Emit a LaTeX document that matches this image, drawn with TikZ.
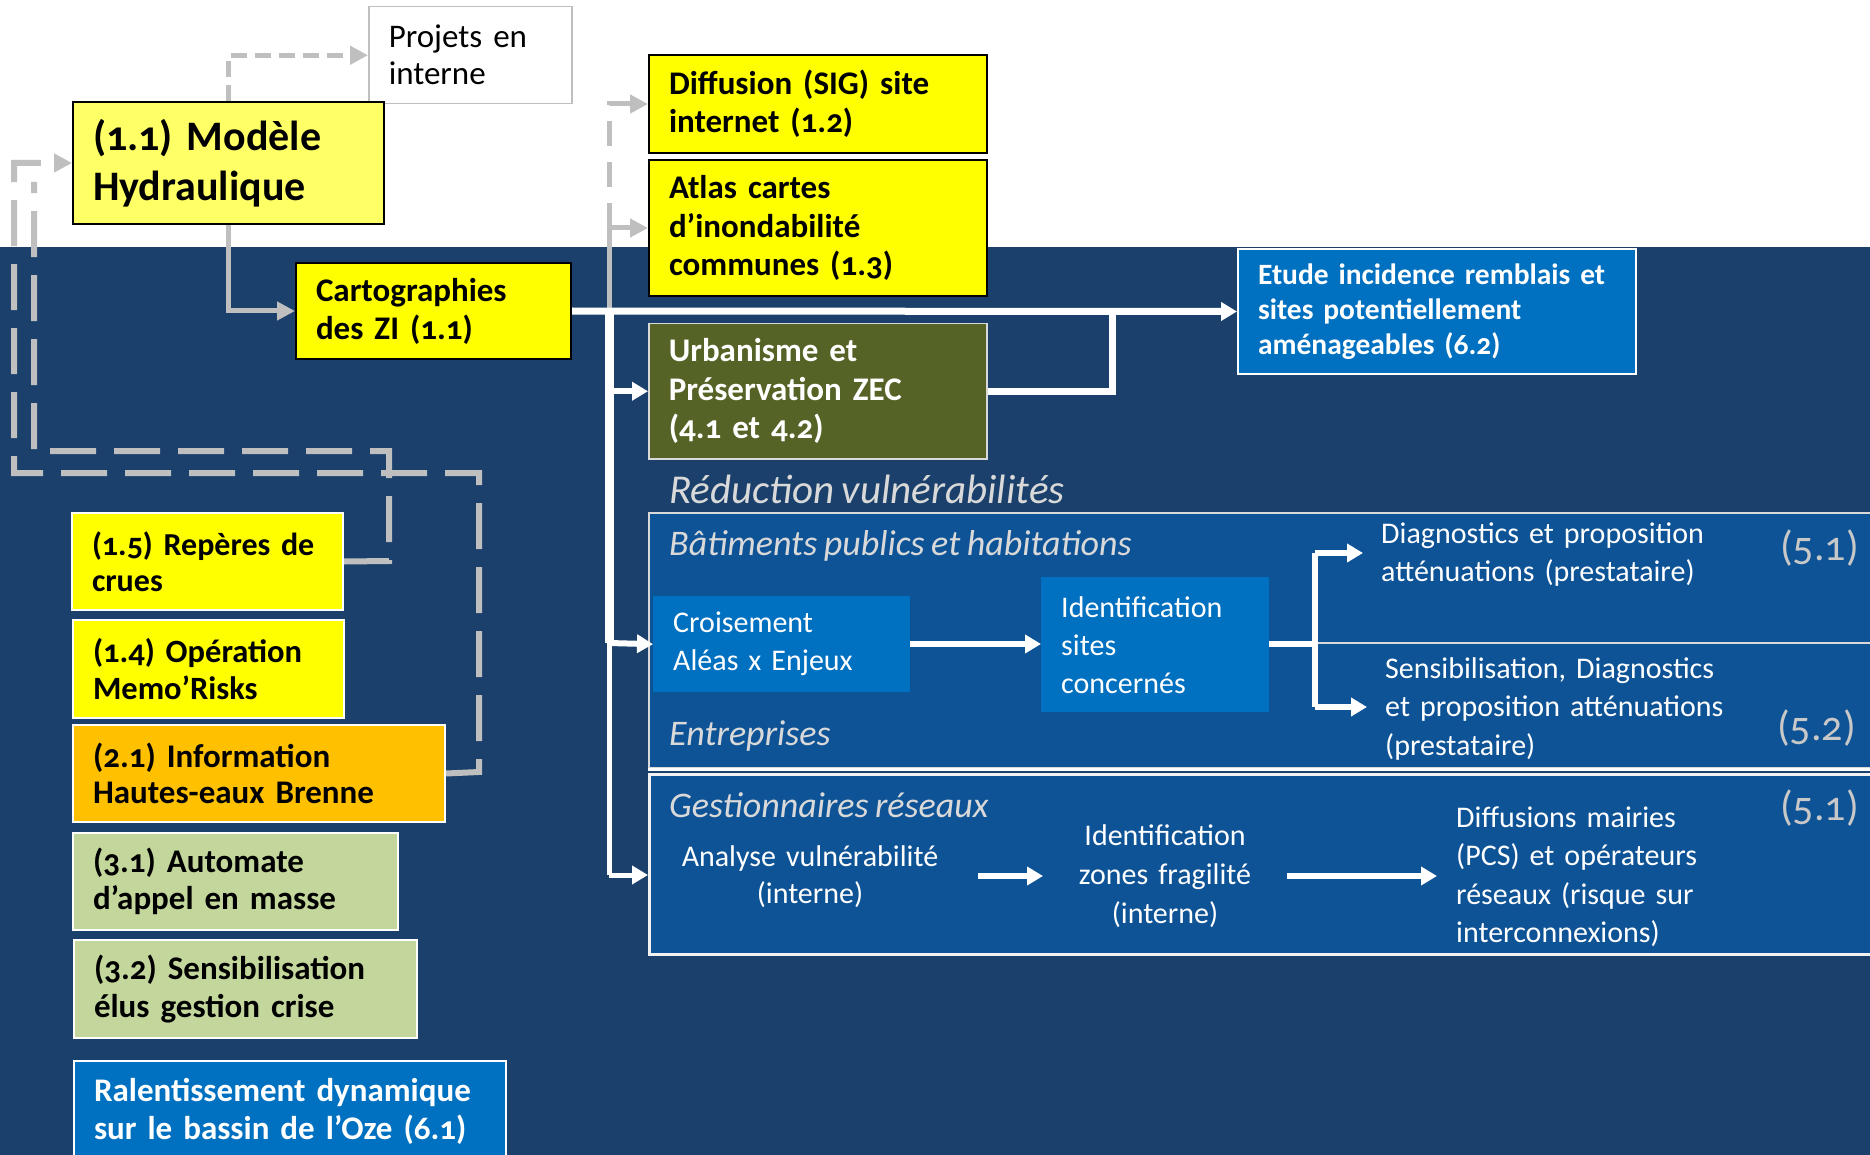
\documentclass[tikz,border=0pt]{standalone}
\usepackage{fontspec}
\setmainfont{Carlito}[Numbers=OldStyle,WordSpace=0.8]
\usetikzlibrary{arrows.meta}
\definecolor{navy}{RGB}{26,64,107}
\definecolor{panel}{RGB}{14,83,150}
\definecolor{bluebox}{RGB}{0,112,192}
\definecolor{ylight}{RGB}{255,255,102}
\definecolor{yel}{RGB}{255,255,0}
\definecolor{orng}{RGB}{255,192,0}
\definecolor{lgreen}{RGB}{195,214,155}
\definecolor{olivebox}{RGB}{85,99,38}
\definecolor{garr}{RGB}{191,191,191}
\definecolor{lbl}{RGB}{217,217,217}
\definecolor{numc}{RGB}{200,200,200}
\begin{document}
\begin{tikzpicture}[x=1pt,y=-1pt,
  bx/.style={rectangle, anchor=north west, inner xsep=20pt, inner ysep=0pt, align=left,
    font=\bfseries\fontsize{33}{38}\selectfont},
  ftxt/.style={anchor=base west, inner sep=0pt, text width=520pt, align=left, text=white,
    font=\fontsize{30}{38.5}\selectfont},
  lab/.style={anchor=base west, inner sep=0pt, text=lbl, font=\itshape\fontsize{36}{40}\selectfont},
  nums/.style={anchor=base west, inner sep=0pt, text=numc, font=\fontsize{42}{44}\selectfont},
  wline/.style={draw=white, line width=6pt},
  warr/.style={draw=white, line width=6pt, -{Triangle[length=16pt,width=18pt]}},
  garrow/.style={draw=garr, line width=5pt, -{Triangle[length=18pt,width=18pt]}},
  gdsh/.style={draw=garr, line width=5pt, dash pattern=on 16pt off 8pt},
  gdshl/.style={draw=garr, line width=6pt, dash pattern=on 46pt off 18pt},
  divl/.style={draw=white!70!gray, line width=2pt}
]
\useasboundingbox (0,0) rectangle (1870,1155);
\fill[white] (0,0) rectangle (1870,1155);
\fill[navy] (0,247) rectangle (1870,1155);

% panels
\node[rectangle, anchor=north west, inner sep=0pt, fill=panel, draw=white!70!gray, line width=2pt,
  minimum width=1240pt, minimum height=255pt] (bat) at (648,512) {};
\draw[white, line width=3pt] (bat.south west) -- (bat.south east);
\node[rectangle, anchor=north west, inner sep=0pt, fill=panel, draw=white!90!gray, line width=2.5pt,
  minimum width=1240pt, minimum height=180pt] (ges) at (648,773) {};
\draw[divl] (1315,643) -- (1870,643);

% top boxes
\node[bx, fill=white, draw=garr, line width=1.5pt, font=\fontsize{33}{37}\selectfont,
  minimum width=203pt, minimum height=97pt, text width=163pt] (proj) at (368,6) {Projets en\\interne};
\node[bx, fill=ylight, draw=black, line width=2pt, font=\bfseries\fontsize{42}{50}\selectfont,
  minimum width=311pt, minimum height=122pt, text width=271pt] (mod) at (72,101) {(1.1) Modèle\\Hydraulique};
\node[bx, fill=yel, draw=black, line width=2pt,
  minimum width=275pt, minimum height=96pt, text width=235pt] (carto) at (295,262) {Cartographies\\des ZI (1.1)};
\node[bx, fill=yel, draw=black, line width=2pt,
  minimum width=338pt, minimum height=98pt, text width=298pt] (diff) at (648,54) {Diffusion (SIG) site\\internet (1.2)};
\node[bx, fill=yel, draw=black, line width=2pt, font=\bfseries\fontsize{33}{38.5}\selectfont,
  minimum width=338pt, minimum height=136pt, text width=298pt] (atlas) at (648,159) {Atlas cartes\\d’inondabilité\\communes (1.3)};
\node[bx, fill=olivebox, draw=lbl, line width=1.5pt, text=white, font=\bfseries\fontsize{33}{38.5}\selectfont,
  minimum width=338pt, minimum height=135pt, text width=298pt] (urb) at (648,323) {Urbanisme et\\Préservation ZEC\\(4.1 et 4.2)};
\node[bx, fill=bluebox, draw=white, line width=2pt, text=white, font=\bfseries\fontsize{29.5}{35}\selectfont,
  minimum width=398pt, minimum height=125pt, text width=358pt] (etude) at (1237,248) {\mbox{Etude incidence remblais et}\\sites potentiellement\\aménageables (6.2)};

% left column
\node[bx, fill=yel, draw=white, line width=2pt, font=\bfseries\fontsize{32}{36.5}\selectfont,
  minimum width=271pt, minimum height=97pt, text width=231pt] (rep) at (71,512) {(1.5) Repères de\\crues};
\node[bx, fill=yel, draw=white, line width=2pt, font=\bfseries\fontsize{32.5}{36.5}\selectfont,
  minimum width=271pt, minimum height=98pt, text width=231pt] (ope) at (72,619) {(1.4) Opération\\Memo’Risks};
\node[bx, fill=orng, draw=white, line width=2pt, font=\bfseries\fontsize{33}{36.5}\selectfont,
  minimum width=372pt, minimum height=97pt, text width=332pt] (info) at (72,724) {(2.1) Information\\Hautes-eaux Brenne};
\node[bx, fill=lgreen, draw=white, line width=2pt, font=\bfseries\fontsize{33}{36.5}\selectfont,
  minimum width=325pt, minimum height=97pt, text width=285pt] (auto) at (72,832) {(3.1) Automate\\d’appel en masse};
\node[bx, fill=lgreen, draw=white, line width=2pt, font=\bfseries\fontsize{33}{38}\selectfont,
  minimum width=343pt, minimum height=98pt, text width=303pt] (sens) at (73,939) {(3.2) Sensibilisation\\élus gestion crise};
\node[bx, fill=bluebox, draw=white, line width=2pt, text=white, font=\bfseries\fontsize{33}{38}\selectfont,
  minimum width=432pt, minimum height=100pt, text width=392pt] (ral) at (73,1060) {Ralentissement dynamique\\sur le bassin de l’Oze (6.1)};

% labels
\node[lab, font=\itshape\fontsize{41}{44}\selectfont] (redv) at (669,503) {Réduction vulnérabilités};
\node[lab] (batl) at (669,555) {Bâtiments publics et habitations};
\node[lab] (entl) at (669,745) {Entreprises};
\node[lab] (gesl) at (669,817) {Gestionnaires réseaux};

% inner blue boxes
\node[bx, fill=bluebox, text=white, font=\fontsize{30}{38}\selectfont,
  minimum width=257pt, minimum height=96pt, text width=217pt] (croi) at (653,596) {Croisement\\Aléas x Enjeux};
\node[bx, fill=bluebox, text=white, font=\fontsize{30}{38}\selectfont,
  minimum width=228pt, minimum height=135pt, text width=188pt] (ident) at (1041,577) {Identification\\sites\\concernés};

% texts
\node[ftxt] (diag) at (1381,543) {Diagnostics et proposition\\atténuations (prestataire)};
\node[ftxt] (sensib) at (1385,678) {Sensibilisation, Diagnostics\\et proposition atténuations\\(prestataire)};
\node[ftxt, anchor=base, align=center, text width=340pt, font=\fontsize{30}{37}\selectfont] (anal) at (810,866) {Analyse vulnérabilité\\(interne)};
\node[ftxt, anchor=base, align=center, text width=300pt, font=\fontsize{30}{39}\selectfont] (izon) at (1165,845) {Identification\\zones fragilité\\(interne)};
\node[ftxt] (diffm) at (1456,827) {Diffusions mairies\\(PCS) et opérateurs\\réseaux (risque sur\\interconnexions)};
\node[nums] (n51a) at (1780,560) {(5.1)};
\node[nums] (n52) at (1777,740) {(5.2)};
\node[nums] (n51b) at (1780,820) {(5.1)};

% coordinates
\coordinate (vtop) at (609,310);
\coordinate (vmid) at (609,643);
\coordinate (vbot) at (609,875);
\coordinate (uj) at (1112,310);
\coordinate (br) at (1315,644);
\coordinate (d1) at (1363,553);
\coordinate (d2) at (1367,707);
\coordinate (g1s) at (978,876);
\coordinate (g1e) at (1043,876);
\coordinate (g2s) at (1287,876);
\coordinate (g2e) at (1437,876);

% gray connectors
\draw[garrow] (mod.south) |- (carto.west);
\draw[gdsh, -{Triangle[length=18pt,width=18pt]}] (mod.north) |- (proj.west);
\draw[gdsh, dash pattern=on 25pt off 16pt, -{Triangle[length=18pt,width=18pt]}] (vtop) |- (diff.west);
\draw[garrow] (vtop) |- (atlas.west);
\draw[gdshl] (rep.east) -- (389,561) -- (389,451) -- (34,451) -- (34,182);
\draw[gdshl, -{Triangle[length=18pt,width=18pt]}] (info.east) -- (479,772) -- (479,473) -- (14,473) |- (mod.west);

% white connectors
\draw[warr, line width=7pt] (carto.east) -- (etude.west);
\draw[wline, line width=7pt] (urb.east) -| (uj);
\draw[wline, line width=9pt] (vtop) -- (vmid);
\draw[wline, line width=5pt, rounded corners=3pt] (vmid) -- (vbot);
\draw[warr] (vtop |- urb.west) -- (urb.west);
\draw[warr] (vmid) -- (croi.west);
\draw[warr, line width=5pt] (vbot) -- (vbot -| ges.west);
\draw[warr] (croi.east |- br) -- (ident.west |- br);
\draw[wline] (ident.east |- br) -- (br);
\draw[wline] (1315,553) -- (1315,707);
\draw[warr] (br |- d1) -- (d1);
\draw[warr] (br |- d2) -- (d2);
\draw[warr] (g1s) -- (g1e);
\draw[warr] (g2s) -- (g2e);
\end{tikzpicture}
\end{document}
